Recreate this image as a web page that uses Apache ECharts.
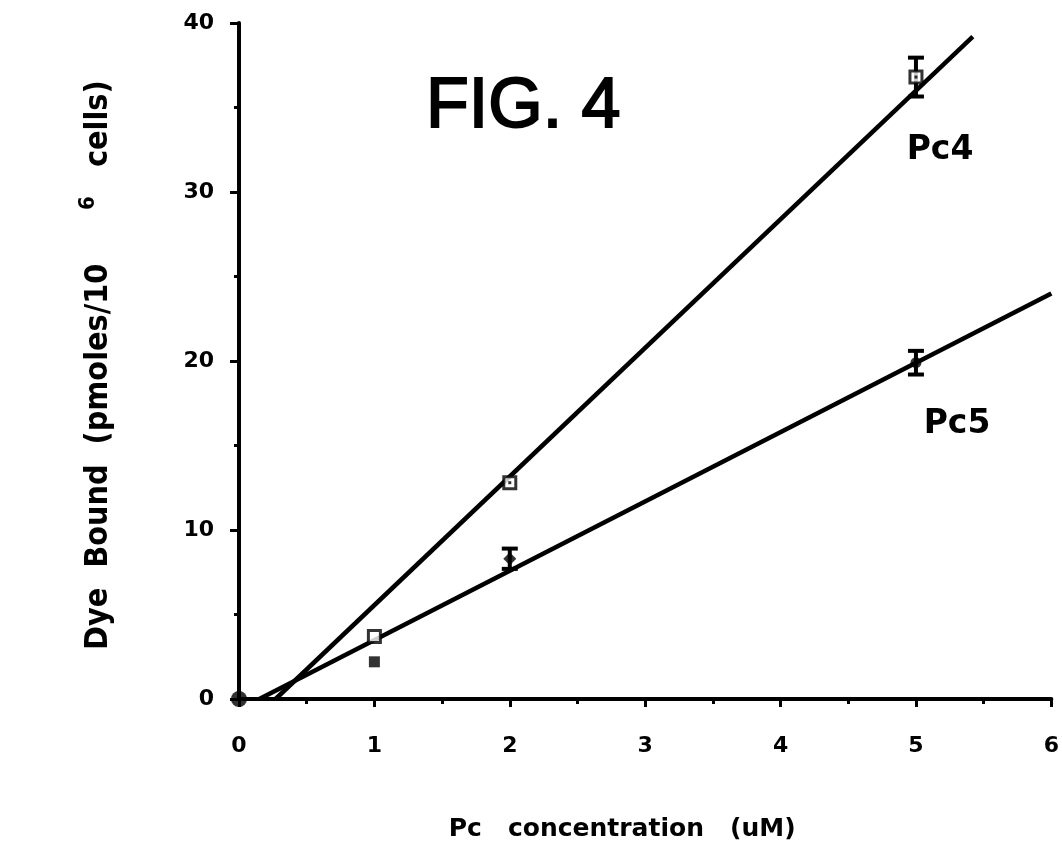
<!DOCTYPE html>
<html><head><meta charset="utf-8">
<script src="https://cdn.jsdelivr.net/npm/echarts@6/dist/echarts.min.js"></script>
<style>html,body{margin:0;padding:0;background:#fff}#c{width:1062px;height:855px}</style>
</head><body><div id="c"></div>
<script>
// ---- data ----
const xTickLabels = ['0','1','2','3','4','5','6'];
const yTickLabels = {0:'0',10:'10',20:'20',30:'30',40:'40'};
const pc4X = [0, 1, 2, 5];
const pc4Y = [0, 3.7, 12.8, 36.8];
const pc4Err = [0, 0, 0, 1.15];
const pc5X = [0, 1, 2, 5];
const pc5Y = [0, 2.2, 8.3, 19.9];
const pc5Err = [0, 0, 0.6, 0.7];
const pc4FitX = [0.27, 5.42];
const pc4FitY = [0, 39.2];
const pc5FitX = [0.15, 6.0];
const pc5FitY = [0, 24.0];

// ---- styles ----
const pc5Symbols = ['circle', 'rect', 'diamond', 'circle'];
const pc5Sizes = [16, 11, 13, 11];
const ink = '#000';
const boldFont = "'DejaVu Sans', sans-serif";
const condFont = "'Liberation Sans Narrow', 'DejaVu Sans Condensed', sans-serif";

function pairs(xs, ys) { return xs.map((x, i) => [x, ys[i]]); }
function errData(xs, ys, es) {
  const out = [];
  xs.forEach((x, i) => { if (es[i] > 0) out.push([x, ys[i] - es[i], ys[i] + es[i]]); });
  return out;
}
function errRender(params, api) {
  const x = api.value(0), lo = api.value(1), hi = api.value(2);
  const a = api.coord([x, hi]), b = api.coord([x, lo]);
  const w = 8;
  const st = { stroke: ink, lineWidth: 4 };
  return { type: 'group', children: [
    { type: 'line', shape: { x1: a[0], y1: a[1], x2: b[0], y2: b[1] }, style: st },
    { type: 'line', shape: { x1: a[0] - w, y1: a[1], x2: a[0] + w, y2: a[1] }, style: st },
    { type: 'line', shape: { x1: b[0] - w, y1: b[1], x2: b[0] + w, y2: b[1] }, style: st }
  ]};
}

const chart = echarts.init(document.getElementById('c'), null, { renderer: 'canvas' });
chart.setOption({
  backgroundColor: '#fff',
  animation: false,
  grid: { left: 239, right: 10, top: 23, bottom: 156, containLabel: false },
  xAxis: {
    type: 'value', min: 0, max: 6, interval: 1,
    name: 'Pc   concentration   (uM)', nameLocation: 'middle', nameGap: 118,
    nameTextStyle: { fontFamily: boldFont, fontWeight: 'bold', fontSize: 25, color: ink, padding: [0, 46, 0, 0] },
    axisLine: { lineStyle: { color: ink, width: 4 } },
    axisTick: { length: 8, lineStyle: { color: ink, width: 3 } },
    minorTick: { show: true, splitNumber: 2, length: 5, lineStyle: { color: ink, width: 3 } },
    splitLine: { show: false },
    axisLabel: { margin: 36, fontFamily: boldFont, fontWeight: 'bold', fontSize: 22, color: ink,
      formatter: v => xTickLabels[Math.round(v)] }
  },
  yAxis: {
    type: 'value', min: 0, max: 40, interval: 10,
    axisLine: { lineStyle: { color: ink, width: 4 } },
    axisTick: { length: 9, lineStyle: { color: ink, width: 3 } },
    minorTick: { show: true, splitNumber: 2, length: 5, lineStyle: { color: ink, width: 3 } },
    splitLine: { show: false },
    axisLabel: { margin: 25, fontFamily: boldFont, fontWeight: 'bold', fontSize: 22, color: ink,
      formatter: v => yTickLabels[v] }
  },
  series: [
    { name: 'Pc4 fit', type: 'line', data: pairs(pc4FitX, pc4FitY), showSymbol: false,
      lineStyle: { color: ink, width: 4.5 }, z: 2 },
    { name: 'Pc5 fit', type: 'line', data: pairs(pc5FitX, pc5FitY), showSymbol: false,
      lineStyle: { color: ink, width: 4.5 }, z: 2 },
    { name: 'Pc4 err', type: 'custom', renderItem: errRender, data: errData(pc4X, pc4Y, pc4Err),
      encode: { x: 0, y: [1, 2] }, z: 3 },
    { name: 'Pc5 err', type: 'custom', renderItem: errRender, data: errData(pc5X, pc5Y, pc5Err),
      encode: { x: 0, y: [1, 2] }, z: 3 },
    { name: 'Pc5', type: 'scatter',
      data: pc5X.map((x, i) => ({ value: [x, pc5Y[i]], symbol: pc5Symbols[i], symbolSize: pc5Sizes[i] })),
      itemStyle: { color: ink }, z: 4 },
    { name: 'Pc4', type: 'scatter', data: pairs(pc4X, pc4Y).slice(1), symbol: 'rect', symbolSize: 12,
      itemStyle: { color: '#fff', borderColor: ink, borderWidth: 3 }, z: 5 },
    { name: 'Pc4 dot', type: 'scatter', data: pairs(pc4X, pc4Y).slice(2), symbol: 'rect', symbolSize: 3,
      itemStyle: { color: ink }, z: 6, silent: true }
  ],
  graphic: [
    { type: 'text', left: 425, top: 72, style: { text: 'FIG. 4', font: "normal 70px 'Liberation Sans', Arial, sans-serif", fill: ink, stroke: ink, lineWidth: 2 } },
    { type: 'text', x: 940, y: 150, style: { text: 'Pc4', font: "bold 33px 'DejaVu Sans', sans-serif", fill: ink, align: 'center', verticalAlign: 'middle' } },
    { type: 'text', x: 957, y: 424, style: { text: 'Pc5', font: "bold 33px 'DejaVu Sans', sans-serif", fill: ink, align: 'center', verticalAlign: 'middle' } },
    { type: 'text', x: 99, y: 650, rotation: Math.PI / 2,
      style: { text: 'Dye  Bound  (pmoles/10', font: "bold 32px " + condFont, fill: ink, align: 'left', verticalAlign: 'middle' } },
    { type: 'text', x: 99, y: 167, rotation: Math.PI / 2,
      style: { text: 'cells)', font: "bold 32px " + condFont, fill: ink, align: 'left', verticalAlign: 'middle' } },
    { type: 'text', x: 88, y: 203, rotation: Math.PI / 2,
      style: { text: '6', font: "bold 22px " + condFont, fill: ink, align: 'center', verticalAlign: 'middle' } }
  ]
});
</script>
</body></html>
